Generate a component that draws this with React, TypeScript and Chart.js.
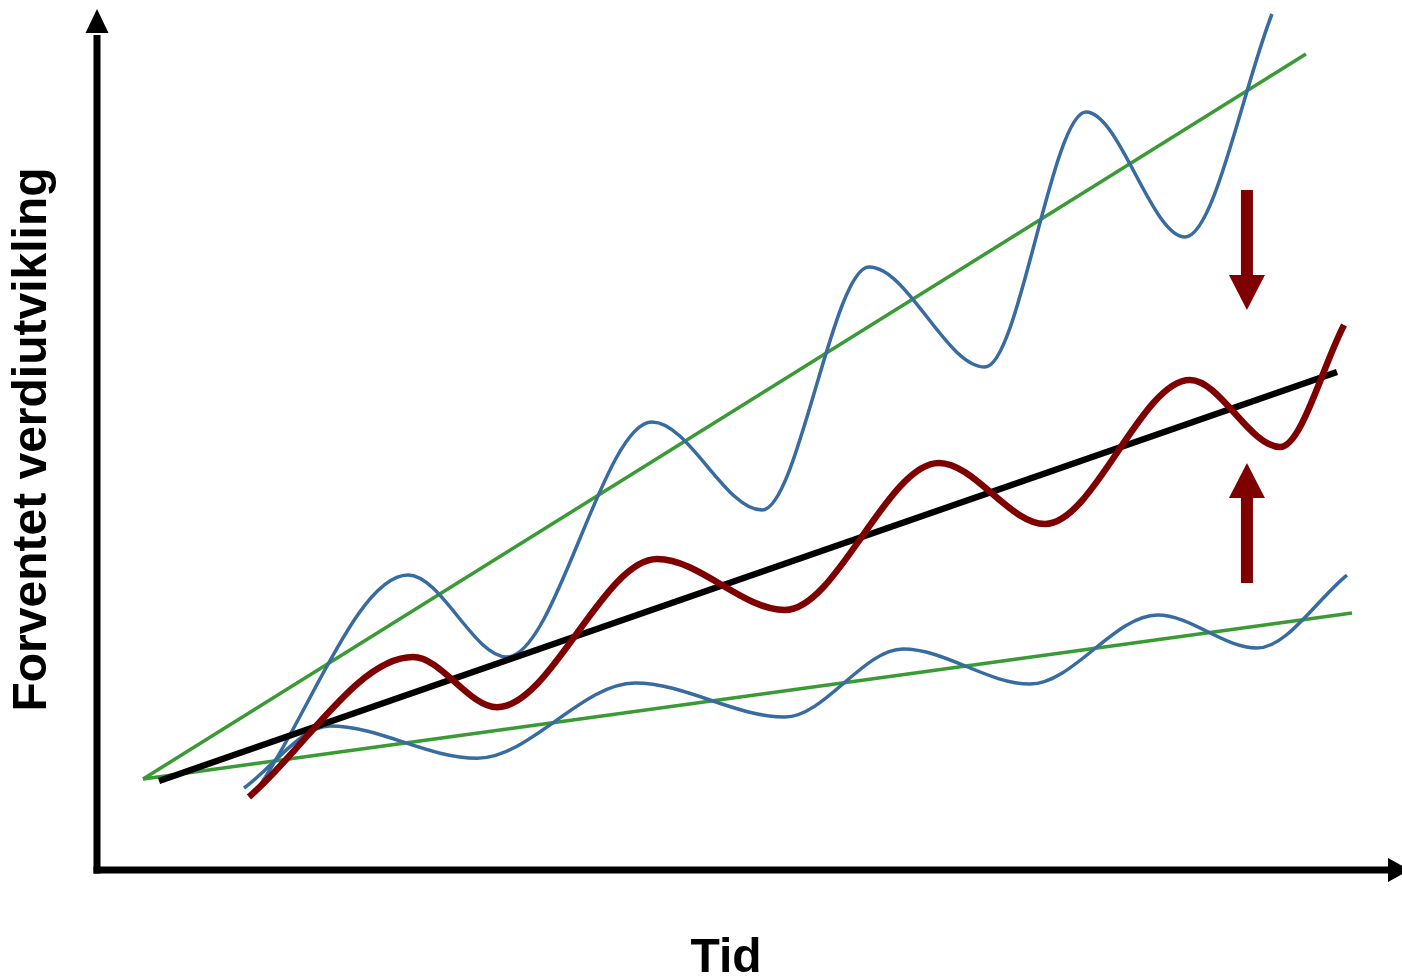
import React, { useEffect, useRef } from "react";
import { Chart, registerables } from "chart.js";

Chart.register(...registerables);

// Time axis runs 0..100, value axis runs 0..100 (conceptual units)
const xMin = 0;
const xMax = 100;
const yMin = 0;
const yMax = 100;

const axisTitleX = "Tid";
const axisTitleY = "Forventet verdiutvikling";

// Straight trend lines
const upperTrendX = [3.66, 96.1];
const upperTrendY = [10.57, 94.77];
const lowerTrendX = [3.66, 99.76];
const lowerTrendY = [10.57, 29.85];
const expectedX = [4.93, 98.57];
const expectedY = [10.34, 57.84];

// Wavy paths (start, peaks/troughs, end)
const upperPathX = [12.8, 24.72, 32.59, 44.12, 52.86, 61.37, 70.59, 78.62, 86.49, 93.4];
const upperPathY = [9.52, 34.26, 24.74, 52.03, 41.81, 70.03, 58.42, 88.04, 73.52, 99.42];

const lowerPathX = [11.69, 18.52, 30.21, 42.77, 54.69, 64.07, 74.17, 84.3, 92.21, 99.36];
const lowerPathY = [9.52, 16.72, 12.98, 21.72, 17.77, 25.67, 21.6, 29.62, 25.78, 34.26];

const actualPathX = [12.08, 25.12, 31.8, 44.52, 54.69, 66.93, 75.36, 86.88, 94.04, 99.13];
const actualPathY = [8.48, 24.74, 18.9, 36.12, 30.2, 47.27, 40.19, 56.91, 49.13, 63.3];

// Red arrows: x position, shaft start, tip
const arrowX = [91.41, 91.41];
const arrowFromY = [78.98, 33.33];
const arrowToY = [65.04, 47.27];

const GREEN = "#3a9a35";
const BLUE = "#386ba0";
const RED = "#7f0000";
const FONT = "'Liberation Sans', Arial, Helvetica, sans-serif";

const toPts = (xs: number[], ys: number[]) => xs.map((x, i) => ({ x, y: ys[i] }));

export default function App() {
  const ref = useRef<HTMLCanvasElement>(null);

  useEffect(() => {
    const canvas = ref.current!;

    const decorPlugin = {
      id: "decor",
      beforeDatasetsDraw(chart: any) {
        const { ctx, chartArea } = chart;
        const left = chartArea.left;
        const bottom = chartArea.bottom;
        ctx.save();
        ctx.fillStyle = "#000";
        ctx.strokeStyle = "#000";
        ctx.lineWidth = 7;
        ctx.lineCap = "butt";
        // y axis
        ctx.beginPath();
        ctx.moveTo(left, bottom + 3.5);
        ctx.lineTo(left, chartArea.top + 26);
        ctx.stroke();
        ctx.beginPath();
        ctx.moveTo(left, chartArea.top);
        ctx.lineTo(left - 11.5, chartArea.top + 24);
        ctx.lineTo(left + 11.5, chartArea.top + 24);
        ctx.closePath();
        ctx.fill();
        // x axis
        const w = chart.width;
        ctx.beginPath();
        ctx.moveTo(left - 3.5, bottom);
        ctx.lineTo(w - 12, bottom);
        ctx.stroke();
        ctx.beginPath();
        ctx.moveTo(w + 8, bottom);
        ctx.lineTo(w - 14, bottom - 12);
        ctx.lineTo(w - 14, bottom + 12);
        ctx.closePath();
        ctx.fill();
        ctx.restore();
      },
      afterDatasetsDraw(chart: any) {
        const { ctx, scales } = chart;
        ctx.save();
        ctx.fillStyle = RED;
        for (let i = 0; i < arrowX.length; i++) {
          const px = scales.x.getPixelForValue(arrowX[i]);
          const y0 = scales.y.getPixelForValue(arrowFromY[i]);
          const y1 = scales.y.getPixelForValue(arrowToY[i]);
          const dir = y1 > y0 ? 1 : -1;
          const headLen = 35;
          const headHalf = 18;
          const shaftHalf = 6;
          const base = y1 - dir * headLen;
          ctx.fillRect(px - shaftHalf, Math.min(y0, base), shaftHalf * 2, Math.abs(base - y0));
          ctx.beginPath();
          ctx.moveTo(px, y1);
          ctx.lineTo(px - headHalf, base);
          ctx.lineTo(px + headHalf, base);
          ctx.closePath();
          ctx.fill();
        }
        ctx.restore();
      },
    };

    const lineDs = (pts: any[], color: string, width: number, curved: boolean) => ({
      data: pts,
      borderColor: color,
      backgroundColor: color,
      borderWidth: width,
      pointRadius: 0,
      pointHoverRadius: 0,
      fill: false,
      clip: false as any,
      cubicInterpolationMode: curved ? ("monotone" as const) : ("default" as const),
      tension: 0,
    });

    const chart = new Chart(canvas, {
      type: "line",
      data: {
        datasets: [
          lineDs(toPts(actualPathX, actualPathY), RED, 6.5, true),
          lineDs(toPts(expectedX, expectedY), "#000", 6.5, false),
          lineDs(toPts(upperPathX, upperPathY), BLUE, 3.5, true),
          lineDs(toPts(lowerPathX, lowerPathY), BLUE, 3.5, true),
          lineDs(toPts(upperTrendX, upperTrendY), GREEN, 3.5, false),
          lineDs(toPts(lowerTrendX, lowerTrendY), GREEN, 3.5, false),
        ] as any,
      },
      options: {
        animation: false,
        responsive: false,
        devicePixelRatio: 1,
        events: [],
        layout: { padding: { top: 9, right: 47, left: 0, bottom: 0 } },
        plugins: { legend: { display: false }, tooltip: { enabled: false } },
        scales: {
          x: {
            type: "linear",
            min: xMin,
            max: xMax,
            grid: { display: false },
            ticks: { display: false },
            border: { display: false },
            title: {
              display: true,
              text: axisTitleX,
              color: "#000",
              padding: 0,
              font: { family: FONT, size: 48, weight: "bold", lineHeight: 0.82 },
            },
            afterFit: (s: any) => {
              s.height = 108;
            },
          },
          y: {
            type: "linear",
            min: yMin,
            max: yMax,
            grid: { display: false },
            ticks: { display: false },
            border: { display: false },
            title: {
              display: true,
              text: axisTitleY,
              color: "#000",
              padding: { top: 11, bottom: 0 },
              font: { family: FONT, size: 48, weight: "bold", lineHeight: 0.9 },
            },
            afterFit: (s: any) => {
              s.width = 97;
            },
          },
        },
      } as any,
      plugins: [decorPlugin],
    });

    return () => chart.destroy();
  }, []);

  return (
    <div style={{ position: "absolute", left: 0, top: 0, width: 1402, height: 978, background: "#fff" }}>
      <canvas ref={ref} width={1402} height={978} style={{ display: "block" }} />
    </div>
  );
}
